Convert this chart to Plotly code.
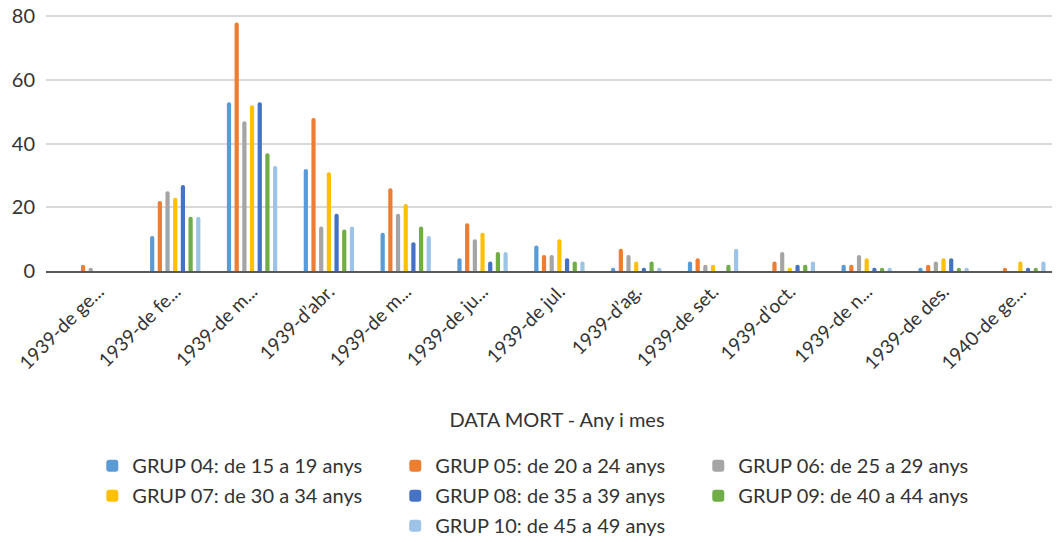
import plotly.graph_objects as go

categories = ["1939-de gen.", "1939-de febr.", "1939-de març", "1939-d’abr.", "1939-de maig",
              "1939-de juny", "1939-de jul.", "1939-d’ag.", "1939-de set.", "1939-d’oct.",
              "1939-de nov.", "1939-de des.", "1940-de gen."]
tick_labels = ["1939-de ge...", "1939-de fe...", "1939-de m...", "1939-d’abr.", "1939-de m...",
               "1939-de ju...", "1939-de jul.", "1939-d’ag.", "1939-de set.", "1939-d’oct.",
               "1939-de n...", "1939-de des.", "1940-de ge..."]

series_names = ["GRUP 04: de 15 a 19 anys", "GRUP 05: de 20 a 24 anys", "GRUP 06: de 25 a 29 anys",
                "GRUP 07: de 30 a 34 anys", "GRUP 08: de 35 a 39 anys", "GRUP 09: de 40 a 44 anys",
                "GRUP 10: de 45 a 49 anys"]

grup04 = [0, 11, 53, 32, 12, 4, 8, 1, 3, 0, 2, 1, 0]
grup05 = [2, 22, 78, 48, 26, 15, 5, 7, 4, 3, 2, 2, 1]
grup06 = [1, 25, 47, 14, 18, 10, 5, 5, 2, 6, 5, 3, 0]
grup07 = [0, 23, 52, 31, 21, 12, 10, 3, 2, 1, 4, 4, 3]
grup08 = [0, 27, 53, 18, 9, 3, 4, 1, 0, 2, 1, 4, 1]
grup09 = [0, 17, 37, 13, 14, 6, 3, 3, 2, 2, 1, 1, 1]
grup10 = [0, 17, 33, 14, 11, 6, 3, 1, 7, 3, 1, 1, 3]

colors = ["#5B9BD5", "#ED7D31", "#A5A5A5", "#FFC000", "#4472C4", "#70AD47", "#9DC3E6"]
legend_ids = ["legend", "legend", "legend", "legend2", "legend2", "legend2", "legend3"]
all_values = [grup04, grup05, grup06, grup07, grup08, grup09, grup10]
y_ticks = [0, 20, 40, 60, 80]

FONT = "Lato, 'Open Sans', sans-serif"
TXT = "#333333"

fig = go.Figure()
for name, vals, col, lg in zip(series_names, all_values, colors, legend_ids):
    fig.add_trace(go.Bar(x=categories, y=vals, name=name, marker_color=col,
                         marker_line_width=0, legend=lg))

# the page body adds an 8px offset; the figure is placed so the plot lands where intended
OFF = 8
H, W = 542, 1060
Y_TOP = 81.0
PX_PER_UNIT = 255 / 80
PB = 270.7                      # zero line, screen px
PT = PB - Y_TOP * PX_PER_UNIT   # plot top, screen px
PL, PR = 45.7, 1060 + OFF
L, T = PL - OFF, PT - OFF
B = H - (PB - OFF)
R = W - (PR - OFF)
plot_h = PB - PT
plot_w = PR - PL

def sy(p):
    return (PB - p) / plot_h

def sx(p):
    return (p - PL) / plot_w

leg_common = dict(orientation="h", font=dict(family=FONT, size=20, color=TXT),
                  entrywidth=258, entrywidthmode="pixels", bgcolor="rgba(0,0,0,0)",
                  xanchor="left", yanchor="top", tracegroupgap=0)

fig.update_layout(
    width=W, height=H,
    margin=dict(l=L, r=R, t=T, b=B, autoexpand=False),
    paper_bgcolor="white", plot_bgcolor="white",
    font=dict(family=FONT, size=19, color=TXT),
    barmode="group", bargap=0.30, bargroupgap=0.45, barcornerradius=2,
    showlegend=True,
    legend=dict(x=sx(92), y=sy(446), **leg_common),
    legend2=dict(x=sx(92), y=sy(476), **leg_common),
    legend3=dict(x=sx(395), y=sy(506), **leg_common),
    xaxis=dict(type="category", categoryorder="array", categoryarray=categories,
               tickmode="array", tickvals=categories, ticktext=tick_labels,
               tickangle=-45, tickfont=dict(family=FONT, size=19, color=TXT),
               range=[-0.682, 12.62], showgrid=False, showline=True,
               linecolor="#595959", linewidth=2, ticks="",
               title=dict(text="DATA MORT - Any i mes", standoff=40,
                          font=dict(family=FONT, size=20, color=TXT))),
    yaxis=dict(range=[0, Y_TOP], tickmode="array", tickvals=y_ticks, showgrid=True,
               gridcolor="#D9D9D9", gridwidth=1.5, zeroline=False, showline=False,
               ticklabeloverflow="allow",
               ticklabelstandoff=10, tickfont=dict(family=FONT, size=20, color=TXT)),
)

fig.write_html("out.html")
